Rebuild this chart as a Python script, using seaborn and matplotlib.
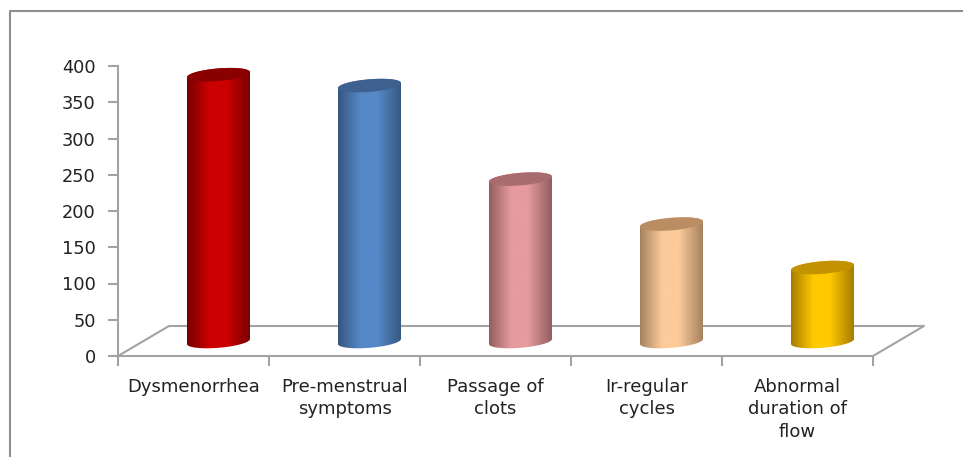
import numpy as np
import seaborn as sns
import matplotlib.pyplot as plt
from matplotlib.colors import LinearSegmentedColormap
from matplotlib.lines import Line2D
from matplotlib.patches import PathPatch, Polygon
from matplotlib.path import Path

categories = ["Dysmenorrhea", "Pre-menstrual\nsymptoms", "Passage of\nclots",
              "Ir-regular\ncycles", "Abnormal\nduration of\nflow"]
values = [368, 353, 224, 162, 102]
yticks = [0, 50, 100, 150, 200, 250, 300, 350, 400]

edge_colors = ["#760000", "#35577f", "#935e60", "#a5825f", "#a67c00"]
mid_colors = ["#cc0000", "#5688c8", "#e69b9e", "#fdca9a", "#ffc900"]
top_colors = ["#8a0000", "#3e6190", "#a96c6e", "#ba8d62", "#c29200"]

GRAY = "#a3a3a3"
W, H = 963, 457
LEFT, RIGHT, TOP, BOTTOM = 118, 873, 66, 356

sns.set_style("white")
plt.rcParams["font.family"] = ["DejaVu Sans"]

fig = plt.figure(figsize=(W / 100, H / 100), dpi=100)
ax = fig.add_axes([LEFT / W, 1 - BOTTOM / H, (RIGHT - LEFT) / W, (BOTTOM - TOP) / H])

sns.barplot(x=categories, y=values, color="#cc0000", width=0.417, ax=ax)

# pixel sizes converted to data units
px_x = 5 / (RIGHT - LEFT)
px_y = 400 / (BOTTOM - TOP)


def ellipse(cx, cy, t):
    # slightly tilted ellipse, the ends of the cylinders
    dx = 31.5 * np.cos(t)
    dy = 6.3 * np.sin(t) + 0.08 * dx
    return cx + dx * px_x, cy + dy * px_y


# floor of the 3d box
depth_x, depth_y = 51 * px_x, 30 * px_y
ax.plot([-0.5, -0.5 + depth_x, 4.5 + depth_x, 4.5], [0, depth_y, depth_y, 0],
        color=GRAY, lw=1.5, clip_on=False, zorder=1)

# cylinders, built from the bars seaborn made
for i, bar in enumerate(ax.patches):
    bar.set_visible(False)
    cx = bar.get_x() + bar.get_width() / 2 + 25 * px_x
    base = 14.5 * px_y
    top = base + bar.get_height()

    bx, by = ellipse(cx, base, np.linspace(np.pi, 2 * np.pi, 40))
    tx, ty = ellipse(cx, top, np.linspace(0, np.pi, 40))
    pts = np.column_stack([np.r_[bx, tx], np.r_[by, ty]])
    clip = PathPatch(Path(np.r_[pts, pts[:1]], closed=True), transform=ax.transData,
                     fc="none", ec="none")
    ax.add_patch(clip)

    cmap = LinearSegmentedColormap.from_list(
        "c", [(0, edge_colors[i]), (0.35, mid_colors[i]), (0.62, mid_colors[i]), (1, edge_colors[i])])
    img = ax.imshow(np.linspace(0, 1, 128)[None, :], cmap=cmap, aspect="auto", zorder=2,
                    extent=[cx - 31.5 * px_x, cx + 31.5 * px_x, 0, 400])
    img.set_clip_path(clip)

    ex, ey = ellipse(cx, top, np.linspace(0, 2 * np.pi, 80))
    ax.add_patch(Polygon(np.column_stack([ex, ey]), fc=top_colors[i], ec="none", zorder=3))

ax.set_xlim(-0.5, 4.5)
ax.set_ylim(0, 400)

for side in ["top", "right"]:
    ax.spines[side].set_visible(False)
for side in ["left", "bottom"]:
    ax.spines[side].set_color(GRAY)
    ax.spines[side].set_linewidth(1.5)

ax.set_yticks(yticks)
ax.set_xticks(np.arange(len(categories)))
ax.set_xticklabels(categories, linespacing=1.3)
ax.set_xticks(np.arange(len(categories) + 1) - 0.5, minor=True)
ax.tick_params(axis="y", left=True, length=7, width=1.5, color=GRAY, labelsize=12.8,
               labelcolor="#222222", pad=9)
ax.tick_params(axis="x", which="major", bottom=False, length=0, labelsize=13,
               labelcolor="#222222", pad=16)
ax.tick_params(axis="x", which="minor", bottom=True, length=7, width=1.5, color=GRAY)

# outer frame, only left and top are visible in the picture
fig.add_artist(Line2D([10 / W, 10 / W, 1], [0, 1 - 11 / H, 1 - 11 / H], color="#8f8f8f", lw=1.5))

fig.savefig("out.png", dpi=100)
